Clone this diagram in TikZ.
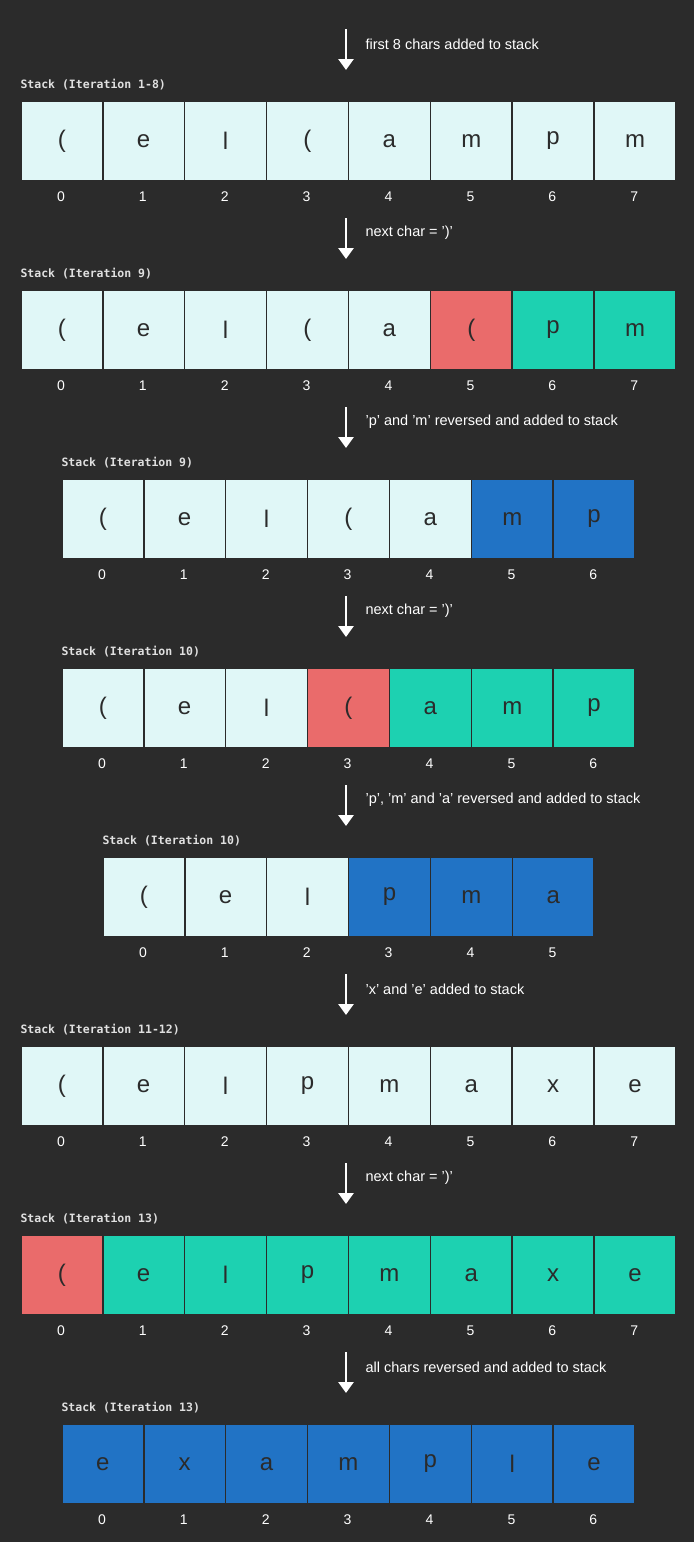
\documentclass[tikz,border=0pt]{standalone}
\usepackage{fontspec}
\setmainfont{Liberation Sans}
\newfontfamily\monof{DejaVu Sans Mono}
\usetikzlibrary{arrows.meta}
\definecolor{bg}{HTML}{2B2B2B}
\definecolor{cl}{HTML}{E0F7F7}
\definecolor{cr}{HTML}{EA6B6B}
\definecolor{ct}{HTML}{1DD1B1}
\definecolor{cb}{HTML}{2173C5}
\definecolor{tx}{HTML}{2B2B2B}
\newcommand{\lpar}{(}
\tikzset{
 cell/.style={draw=bg,line width=1.6pt,minimum width=81.9pt,minimum height=80pt,inner sep=0pt,
   font=\fontsize{24}{24}\selectfont,text=tx,anchor=north west},
 idx/.style={text=white,font=\fontsize{14}{14}\selectfont},
 ann/.style={text=white,font=\fontsize{14.5}{15}\selectfont,anchor=west},
 lbl/.style={text=white!88!black,font=\monof\bfseries\fontsize{11.5}{12}\selectfont,anchor=west},
 arr/.style={draw=white,line width=2.6pt,-{Triangle[length=11pt,width=15pt]}}
}
\newcommand{\cellrow}[4]{%
 \foreach [count=\i from 0] \l/\c in {#4}{
   \node[cell,fill=\c] (#1c\i) at ({#2+\i*81.9},#3) {\l};
   \node[idx] (#1i\i) at ({#2+\i*81.9+40.9},{#3+97}) {\i};
 }}
\begin{document}
\begin{tikzpicture}[x=1pt,y=-1pt]
\fill[bg] (0,0) rectangle (694,1542);
\useasboundingbox (0,0) rectangle (694,1542);
\foreach [count=\k from 0] \t in {first 8 chars added to stack,{next char = ')'},{'p' and 'm' reversed and added to stack},{next char = ')'},{'p', 'm' and 'a' reversed and added to stack},'x' and 'e' added to stack,{next char = ')'},all chars reversed and added to stack}{
  \coordinate (a\k s) at (346,{29+\k*189});
  \coordinate (a\k e) at (346,{70+\k*189});
  \draw[arr] (a\k s) -- (a\k e);
  \node[ann] (t\k) at (362,{44+\k*189}) {\t};
}
\foreach [count=\k from 0] \x/\t in {20/1-8,20/9,61/9,61/10,102/10,20/11-12,20/13,61/13}{
  \node[lbl] (l\k) at ({\x-3},{85+\k*189}) {Stack (Iteration \t)};
}
\cellrow{r1}{20}{100}{\lpar/cl,e/cl,l/cl,\lpar/cl,a/cl,m/cl,p/cl,m/cl}
\cellrow{r2}{20}{289}{\lpar/cl,e/cl,l/cl,\lpar/cl,a/cl,\lpar/cr,p/ct,m/ct}
\cellrow{r3}{61}{478}{\lpar/cl,e/cl,l/cl,\lpar/cl,a/cl,m/cb,p/cb}
\cellrow{r4}{61}{667}{\lpar/cl,e/cl,l/cl,\lpar/cr,a/ct,m/ct,p/ct}
\cellrow{r5}{102}{856}{\lpar/cl,e/cl,l/cl,p/cb,m/cb,a/cb}
\cellrow{r6}{20}{1045}{\lpar/cl,e/cl,l/cl,p/cl,m/cl,a/cl,x/cl,e/cl}
\cellrow{r7}{20}{1234}{\lpar/cr,e/ct,l/ct,p/ct,m/ct,a/ct,x/ct,e/ct}
\cellrow{r8}{61}{1423}{e/cb,x/cb,a/cb,m/cb,p/cb,l/cb,e/cb}
\end{tikzpicture}
\end{document}
